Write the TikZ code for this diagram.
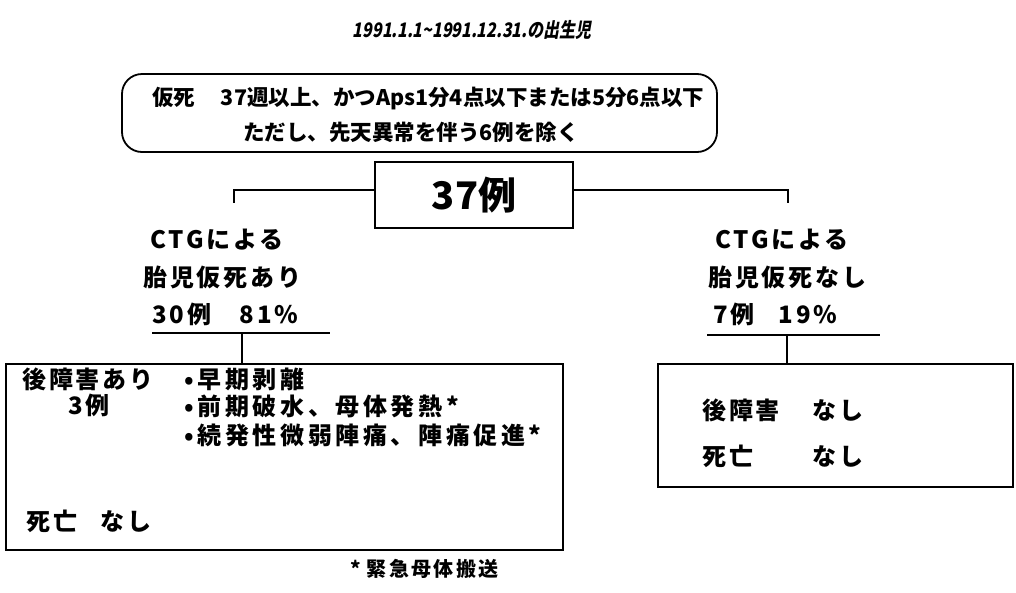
\documentclass[tikz,border=0pt]{standalone}
\usepackage{graphicx}
\usepackage{fontspec}
\setmainfont{Noto Sans CJK JP}
\newfontfamily\slfont{Noto Sans CJK JP}[FakeSlant=0.22]
\newfontfamily\lsfont{Noto Sans CJK JP}[LetterSpace=12]
\newfontfamily\lsbfont{Noto Sans CJK JP}[LetterSpace=15]
\begin{document}
\begin{tikzpicture}[x=1pt,y=-1pt,
  txt/.style={anchor=west,inner sep=0pt,font=\fontsize{24}{26}\lsfont\bfseries},
  btxt/.style={anchor=west,inner sep=0pt,font=\fontsize{24}{26}\lsbfont\bfseries},
  hdr/.style={anchor=west,inner sep=0pt,font=\fontsize{21.5}{24}\selectfont\bfseries},
  boxline/.style={line width=1.8pt},
  uline/.style={line width=2.6pt},
  conn/.style={line width=1.6pt},
  frame/.style={draw,boxline,inner sep=0pt}]
\useasboundingbox (0,0) rectangle (1016,592);
% title
\node[inner sep=0pt,font=\fontsize{20}{22}\slfont\bfseries] (title) at (472,30) {\scalebox{0.8}[1]{1991.1.1\char"7E 1991.12.31.の出生児}};
% rounded definition box
\node[frame,rounded corners=20pt,minimum width=595pt,minimum height=78pt] (def) at (419.5,113) {};
\node[hdr] (d1) at (152,99) {仮死\hspace{1.2em}37週以上、かつAps1分4点以下または5分6点以下};
\node[hdr] (d2) at (243,132) {ただし、先天異常を伴う6例を除く};
% 37 box
\node[frame,minimum width=198pt,minimum height=66pt,font=\fontsize{38}{40}\selectfont\bfseries] (n37) at (474,195) {37例};
\coordinate (lb) at (234,203);
\coordinate (rb) at (788,203);
\draw[conn] ([yshift=5pt]n37.west) -| (lb);
\draw[conn] ([yshift=5pt]n37.east) -| (rb);
% left branch labels
\node[txt] (lctg) at (150,240) {CTGによる};
\node[txt] (lfd) at (143,277) {胎児仮死あり};
\node[txt] (lst) at (152,314) {30例\hspace{1.2em}81\%};
\coordinate (lu1) at (152,333);
\coordinate (lu2) at (330,333);
\coordinate (lv) at (242,333);
\draw[uline] (lu1) -- (lu2);
% right branch labels
\node[txt] (rctg) at (715,240) {CTGによる};
\node[txt] (rfd) at (708,277) {胎児仮死なし};
\node[txt] (rst) at (713,314) {7例\hspace{1.0em}19\%};
\coordinate (ru1) at (707,335);
\coordinate (ru2) at (880,335);
\coordinate (rv) at (787,335);
\draw[uline] (ru1) -- (ru2);
% left box
\node[frame,minimum width=557pt,minimum height=186pt] (lbox) at (284.5,457) {};
\draw[conn] (lv) -- (lv |- lbox.north);
\node[txt] (l1) at (22,379) {後障害あり};
\node[txt] (l2) at (68,405) {3例};
\node[btxt] (b1) at (184,379) {\textbullet\,早期剥離};
\node[btxt] (b2) at (184,406) {\textbullet\,前期破水、母体発熱*};
\node[btxt] (b3) at (184,435) {\textbullet\,続発性微弱陣痛、陣痛促進*};
\node[txt] (l3) at (26,521) {死亡};
\node[txt] (l4) at (100,521) {なし};
% right box
\node[frame,minimum width=355pt,minimum height=123pt] (rbox) at (835.5,425.5) {};
\draw[conn] (rv) -- (rv |- rbox.north);
\node[txt] (r1) at (702,410) {後障害};
\node[txt] (r2) at (812,410) {なし};
\node[txt] (r3) at (702,456) {死亡};
\node[txt] (r4) at (812,456) {なし};
% footnote
\node[anchor=west,inner sep=0pt,font=\fontsize{20}{22}\lsfont\bfseries] (fn) at (350,569) {*\hspace{0.3em}緊急母体搬送};
\end{tikzpicture}
\end{document}
